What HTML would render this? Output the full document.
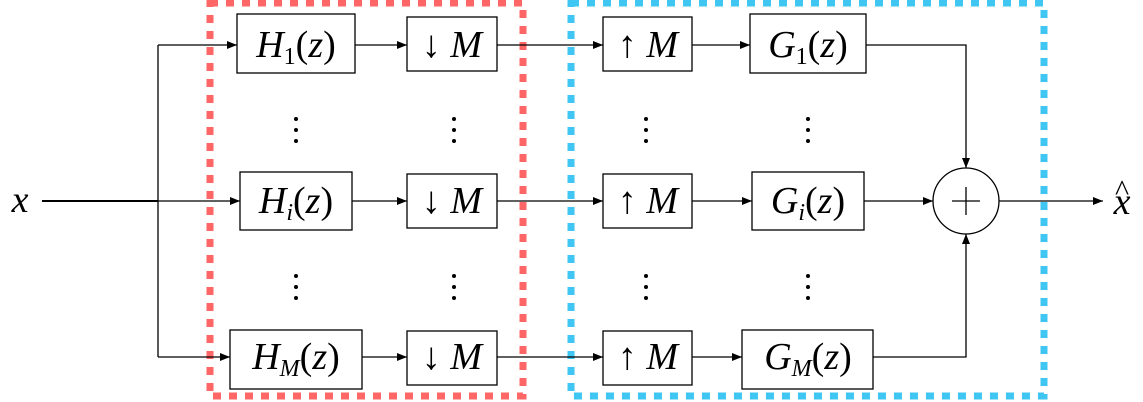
<!DOCTYPE html>
<html><head><style>body{margin:0;background:#fff}svg{display:block}</style></head><body>
<svg width="1143" height="402" xmlns="http://www.w3.org/2000/svg" font-family="Liberation Serif, serif">
<defs><marker id="a" markerWidth="10" markerHeight="8" refX="10" refY="4" orient="auto" markerUnits="userSpaceOnUse"><path d="M0,0 L10,4 L0,8 z" fill="#000"/></marker>
<g id="d"><circle cx="0" cy="0" r="2"/><circle cx="0" cy="11" r="2"/><circle cx="0" cy="22" r="2"/></g></defs>
<rect x="210" y="3" width="313" height="393" fill="none" stroke="#ff6666" stroke-width="7" stroke-dasharray="8,8"/>
<rect x="571" y="3" width="473" height="393" fill="none" stroke="#3fc6f2" stroke-width="7" stroke-dasharray="8,8"/>
<g stroke="#000" stroke-width="1.3" fill="none">
<line x1="42" y1="201" x2="158" y2="201" stroke-width="2"/>
<polyline points="158,45 158,357"/>
<line x1="158" y1="45" x2="237" y2="45" marker-end="url(#a)"/>
<line x1="158" y1="201" x2="240" y2="201" marker-end="url(#a)"/>
<line x1="158" y1="357" x2="230" y2="357" marker-end="url(#a)"/>
<line x1="355" y1="45" x2="407" y2="45" marker-end="url(#a)"/>
<line x1="352" y1="201" x2="407" y2="201" marker-end="url(#a)"/>
<line x1="362" y1="357" x2="407" y2="357" marker-end="url(#a)"/>
<line x1="497" y1="45" x2="603" y2="45" marker-end="url(#a)"/>
<line x1="497" y1="201" x2="603" y2="201" marker-end="url(#a)"/>
<line x1="497" y1="357" x2="603" y2="357" marker-end="url(#a)"/>
<line x1="692" y1="45" x2="750" y2="45" marker-end="url(#a)"/>
<line x1="692" y1="201" x2="752" y2="201" marker-end="url(#a)"/>
<line x1="692" y1="357" x2="742" y2="357" marker-end="url(#a)"/>
<polyline points="866,45 966,45 966,168" marker-end="url(#a)"/>
<line x1="864" y1="201" x2="933" y2="201" marker-end="url(#a)"/>
<polyline points="873,357 966,357 966,234" marker-end="url(#a)"/>
<line x1="999" y1="201" x2="1103" y2="201" marker-end="url(#a)"/>
<circle cx="966" cy="201" r="33"/>
<line x1="952" y1="201" x2="980" y2="201"/><line x1="966" y1="187" x2="966" y2="215"/>
<rect x="237" y="14" width="118" height="59"/><rect x="240" y="172" width="112" height="58"/><rect x="230" y="330" width="132" height="59"/>
<rect x="407" y="17" width="90" height="54"/><rect x="407" y="174" width="90" height="54"/><rect x="407" y="331" width="90" height="54"/>
<rect x="603" y="17" width="89" height="54"/><rect x="603" y="174" width="89" height="54"/><rect x="603" y="331" width="89" height="54"/>
<rect x="750" y="14" width="116" height="59"/><rect x="752" y="172" width="112" height="58"/><rect x="742" y="330" width="131" height="59"/>
</g>
<g fill="#000">
<use href="#d" x="296" y="119"/><use href="#d" x="454" y="119"/><use href="#d" x="646" y="119"/><use href="#d" x="808" y="119"/>
<use href="#d" x="296" y="276"/><use href="#d" x="454" y="276"/><use href="#d" x="646" y="276"/><use href="#d" x="808" y="276"/>
</g>
<g font-size="38" text-anchor="middle" font-style="italic">
<text x="20" y="212">x</text>
<text x="1122" y="214">x</text><text x="1122" y="200" font-style="normal" font-size="30">^</text>
<text x="296" y="57">H<tspan font-size="24" font-style="normal" dy="7">1</tspan><tspan dy="-7" font-style="normal">(</tspan>z<tspan font-style="normal">)</tspan></text>
<text x="296" y="213">H<tspan font-size="24" dy="7">i</tspan><tspan dy="-7" font-style="normal">(</tspan>z<tspan font-style="normal">)</tspan></text>
<text x="296" y="369">H<tspan font-size="24" dy="7">M</tspan><tspan dy="-7" font-style="normal">(</tspan>z<tspan font-style="normal">)</tspan></text>
<text x="808" y="57">G<tspan font-size="24" font-style="normal" dy="7">1</tspan><tspan dy="-7" font-style="normal">(</tspan>z<tspan font-style="normal">)</tspan></text>
<text x="808" y="213">G<tspan font-size="24" dy="7">i</tspan><tspan dy="-7" font-style="normal">(</tspan>z<tspan font-style="normal">)</tspan></text>
<text x="808" y="369">G<tspan font-size="24" dy="7">M</tspan><tspan dy="-7" font-style="normal">(</tspan>z<tspan font-style="normal">)</tspan></text>
<text x="452" y="57"><tspan font-style="normal">↓</tspan> M</text>
<text x="452" y="213"><tspan font-style="normal">↓</tspan> M</text>
<text x="452" y="369"><tspan font-style="normal">↓</tspan> M</text>
<text x="648" y="57"><tspan font-style="normal">↑</tspan> M</text>
<text x="648" y="213"><tspan font-style="normal">↑</tspan> M</text>
<text x="648" y="369"><tspan font-style="normal">↑</tspan> M</text>
</g>
</svg>
</body></html>
